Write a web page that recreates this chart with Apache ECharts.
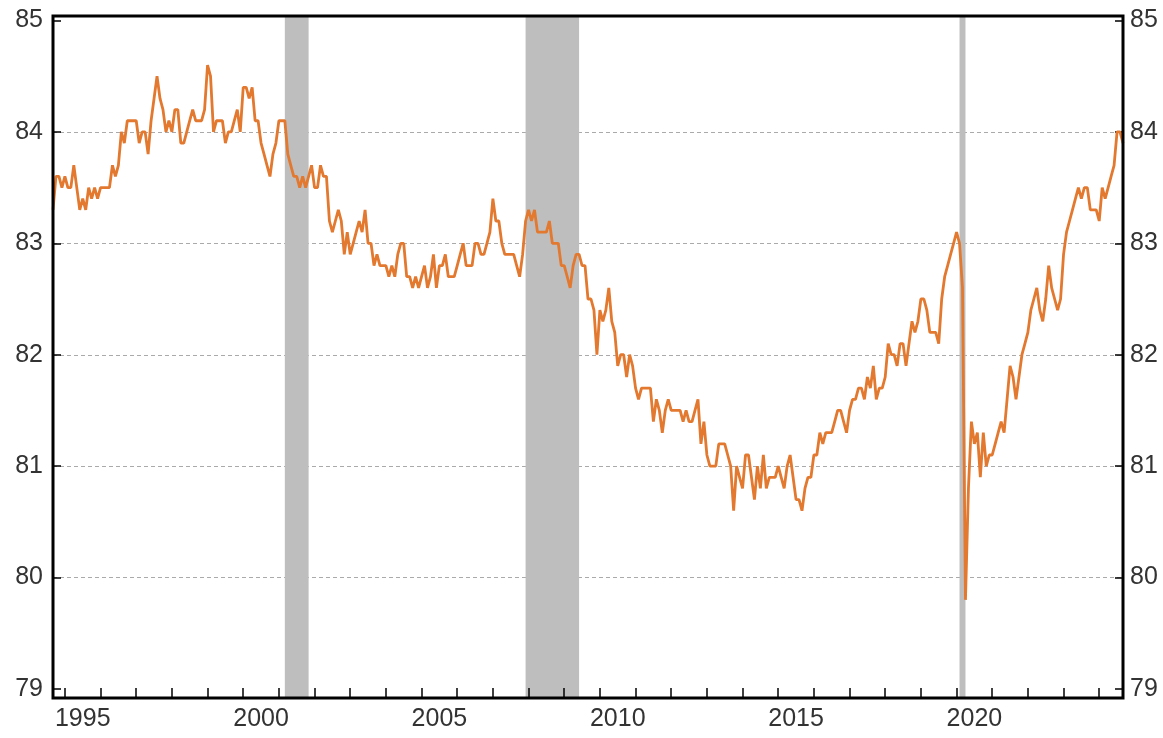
<!DOCTYPE html>
<html>
<head>
<meta charset="utf-8">
<title>Prime-age participation</title>
<script src="https://cdn.jsdelivr.net/npm/echarts@6/dist/echarts.min.js"></script>
<style>
  html, body { margin: 0; padding: 0; background: #fff; }
  #chart { width: 1163px; height: 738px; }
</style>
</head>
<body>
<div id="chart"></div>
<script>
// monthly values, Sep 1994 .. Sep 2024 (12 per row)
var values = [
  83.3, 83.6, 83.6, 83.5, 83.6, 83.5, 83.5, 83.7, 83.5, 83.3, 83.4, 83.3,
  83.5, 83.4, 83.5, 83.4, 83.5, 83.5, 83.5, 83.5, 83.7, 83.6, 83.7, 84.0,
  83.9, 84.1, 84.1, 84.1, 84.1, 83.9, 84.0, 84.0, 83.8, 84.1, 84.3, 84.5,
  84.3, 84.2, 84.0, 84.1, 84.0, 84.2, 84.2, 83.9, 83.9, 84.0, 84.1, 84.2,
  84.1, 84.1, 84.1, 84.2, 84.6, 84.5, 84.0, 84.1, 84.1, 84.1, 83.9, 84.0,
  84.0, 84.1, 84.2, 84.0, 84.4, 84.4, 84.3, 84.4, 84.1, 84.1, 83.9, 83.8,
  83.7, 83.6, 83.8, 83.9, 84.1, 84.1, 84.1, 83.8, 83.7, 83.6, 83.6, 83.5,
  83.6, 83.5, 83.6, 83.7, 83.5, 83.5, 83.7, 83.6, 83.6, 83.2, 83.1, 83.2,
  83.3, 83.2, 82.9, 83.1, 82.9, 83.0, 83.1, 83.2, 83.1, 83.3, 83.0, 83.0,
  82.8, 82.9, 82.8, 82.8, 82.8, 82.7, 82.8, 82.7, 82.9, 83.0, 83.0, 82.7,
  82.7, 82.6, 82.7, 82.6, 82.7, 82.8, 82.6, 82.7, 82.9, 82.6, 82.8, 82.8,
  82.9, 82.7, 82.7, 82.7, 82.8, 82.9, 83.0, 82.8, 82.8, 82.8, 83.0, 83.0,
  82.9, 82.9, 83.0, 83.1, 83.4, 83.2, 83.2, 83.0, 82.9, 82.9, 82.9, 82.9,
  82.8, 82.7, 82.9, 83.2, 83.3, 83.2, 83.3, 83.1, 83.1, 83.1, 83.1, 83.2,
  83.0, 83.0, 83.0, 82.8, 82.8, 82.7, 82.6, 82.8, 82.9, 82.9, 82.8, 82.8,
  82.5, 82.5, 82.4, 82.0, 82.4, 82.3, 82.4, 82.6, 82.3, 82.2, 81.9, 82.0,
  82.0, 81.8, 82.0, 81.9, 81.7, 81.6, 81.7, 81.7, 81.7, 81.7, 81.4, 81.6,
  81.5, 81.3, 81.5, 81.6, 81.5, 81.5, 81.5, 81.5, 81.4, 81.5, 81.4, 81.4,
  81.5, 81.6, 81.2, 81.4, 81.1, 81.0, 81.0, 81.0, 81.2, 81.2, 81.2, 81.1,
  81.0, 80.6, 81.0, 80.9, 80.8, 81.1, 81.1, 80.9, 80.7, 81.0, 80.8, 81.1,
  80.8, 80.9, 80.9, 80.9, 81.0, 80.9, 80.8, 81.0, 81.1, 80.9, 80.7, 80.7,
  80.6, 80.8, 80.9, 80.9, 81.1, 81.1, 81.3, 81.2, 81.3, 81.3, 81.3, 81.4,
  81.5, 81.5, 81.4, 81.3, 81.5, 81.6, 81.6, 81.7, 81.7, 81.6, 81.8, 81.7,
  81.9, 81.6, 81.7, 81.7, 81.8, 82.1, 82.0, 82.0, 81.9, 82.1, 82.1, 81.9,
  82.1, 82.3, 82.2, 82.3, 82.5, 82.5, 82.4, 82.2, 82.2, 82.2, 82.1, 82.5,
  82.7, 82.8, 82.9, 83.0, 83.1, 83.0, 82.6, 79.8, 80.8, 81.4, 81.2, 81.3,
  80.9, 81.3, 81.0, 81.1, 81.1, 81.2, 81.3, 81.4, 81.3, 81.6, 81.9, 81.8,
  81.6, 81.8, 82.0, 82.1, 82.2, 82.4, 82.5, 82.6, 82.4, 82.3, 82.5, 82.8,
  82.6, 82.5, 82.4, 82.5, 82.9, 83.1, 83.2, 83.3, 83.4, 83.5, 83.4, 83.5,
  83.5, 83.3, 83.3, 83.3, 83.2, 83.5, 83.4, 83.5, 83.6, 83.7, 84.0, 84.0,
  83.9
];

// recession periods (start month, end month)
var recessions = [
  ['2001-03', '2001-11'],
  ['2007-12', '2009-06'],
  ['2020-02', '2020-04']
];

var yearLabels = ['1995', '2000', '2005', '2010', '2015', '2020'];
var yTicks = [79, 85];

// month categories starting Sep 1994
var months = [];
var yy = 1994, mm = 9;
for (var i = 0; i < values.length; i++) {
  months.push(yy + '-' + (mm < 10 ? '0' + mm : '' + mm));
  mm++;
  if (mm > 12) { mm = 1; yy++; }
}

var chartDom = document.getElementById('chart');
var myChart = echarts.init(chartDom);
var option;

var labelFont = {
  fontFamily: 'Liberation Sans, Arial, sans-serif',
  fontSize: 25,
  color: '#333'
};

option = {
  animation: false,
  backgroundColor: '#fff',
  grid: [
    // outer frame, holds the line and shading
    { left: 53, right: 40, top: 16, bottom: 40, show: true, borderColor: '#000', borderWidth: 3, z: 10 },
    // inner grid, holds the visible value axes
    { left: 53, right: 40, top: 20.5, bottom: 49 }
  ],
  xAxis: [
    {
      gridIndex: 0,
      type: 'category',
      data: months,
      boundaryGap: false,
      z: 10,
      axisLine: { show: false },
      axisTick: {
        inside: true,
        length: 10,
        interval: function (idx, val) { return months[idx].slice(5) === '01'; },
        lineStyle: { color: '#000', width: 1.5 }
      },
      axisLabel: Object.assign({
        margin: 9,
        interval: function (idx, val) {
          return val.slice(5) === '07' && yearLabels.indexOf(val.slice(0, 4)) >= 0;
        },
        formatter: function (val) { return val.slice(0, 4); }
      }, labelFont),
      splitLine: { show: false }
    },
    {
      gridIndex: 1,
      type: 'category',
      data: months,
      boundaryGap: false,
      show: false
    }
  ],
  yAxis: [
    {
      // scale for the line, same as the labelled axis but spanning the frame
      gridIndex: 0,
      type: 'value',
      min: 78.919,
      max: 85.040,
      show: false
    },
    {
      gridIndex: 1,
      type: 'value',
      position: 'left',
      min: yTicks[0],
      max: yTicks[1],
      interval: 1,
      axisLine: { show: false },
      axisTick: { show: true, inside: true, length: 8, lineStyle: { color: '#000', width: 1.5 } },
      axisLabel: Object.assign({ margin: 10 }, labelFont),
      splitLine: {
        show: true,
        showMinLine: false,
        showMaxLine: false,
        lineStyle: { color: '#aaa', type: [4, 3], width: 1 }
      }
    },
    {
      gridIndex: 1,
      type: 'value',
      position: 'right',
      min: yTicks[0],
      max: yTicks[1],
      interval: 1,
      axisLine: { show: false },
      axisTick: { show: true, inside: true, length: 8, lineStyle: { color: '#000', width: 1.5 } },
      axisLabel: Object.assign({ margin: 7 }, labelFont),
      splitLine: { show: false }
    }
  ],
  series: [
    {
      name: 'rate',
      type: 'line',
      xAxisIndex: 0,
      yAxisIndex: 0,
      data: values,
      showSymbol: false,
      smooth: false,
      z: 3,
      lineStyle: { color: '#E3782F', width: 2.8 },
      itemStyle: { color: '#E3782F' },
      markArea: {
        silent: true,
        itemStyle: { color: '#BEBEBE' },
        label: { show: false },
        data: recessions.map(function (r) {
          return [{ xAxis: r[0] }, { xAxis: r[1] }];
        })
      }
    }
  ]
};

option && myChart.setOption(option);
</script>
</body>
</html>
